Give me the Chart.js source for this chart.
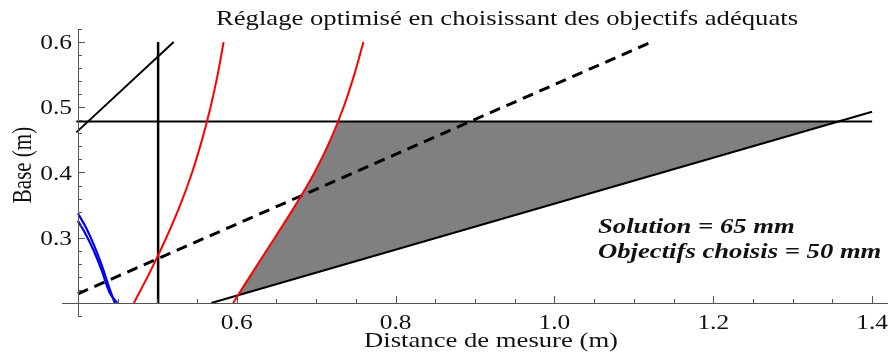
<!DOCTYPE html>
<html>
<head>
<meta charset="utf-8">
<script src="https://cdn.jsdelivr.net/npm/chart.js@4/dist/chart.umd.min.js"></script>
<style>
  html, body { margin: 0; padding: 0; background: #fff; }
  canvas { display: block; }
</style>
</head>
<body>
<canvas id="chart" width="889" height="358"></canvas>
<script>
// Axis ticks
const xTickValues = [0.6, 0.8, 1.0, 1.2, 1.4];
const xTickLabels = ['0.6', '0.8', '1.0', '1.2', '1.4'];
const yTickValues = [0.3, 0.4, 0.5, 0.6];
const yTickLabels = ['0.3', '0.4', '0.5', '0.6'];

// Straight lines (end points)
const horizX = [0.398, 1.400];
const horizY = [0.478, 0.478];
const vertX = [0.501, 0.501];
const vertY = [0.200, 0.600];
const steepX = [0.398, 0.5206];
const steepY = [0.4615, 0.600];
const lowerX = [0.568, 1.400];
const lowerY = [0.200, 0.4932];
const dashX = [0.400, 1.122];
const dashY = [0.214, 0.600];

// Red curves
const redLeftX = [0.4705, 0.4918, 0.5113, 0.5288, 0.5438, 0.5563, 0.5670, 0.5760, 0.5835];
const redLeftY = [0.20, 0.25, 0.30, 0.35, 0.40, 0.45, 0.50, 0.55, 0.60];
const redRightX = [0.5955, 0.6215, 0.6480, 0.6740, 0.6980, 0.7180, 0.7345, 0.7480, 0.7595];
const redRightY = [0.20, 0.25, 0.30, 0.35, 0.40, 0.45, 0.50, 0.55, 0.60];

// Blue curves
const blueOuterX = [0.400, 0.410, 0.420, 0.430, 0.440, 0.4465];
const blueOuterY = [0.3375, 0.316, 0.2895, 0.258, 0.2215, 0.200];
const blueInnerX = [0.400, 0.410, 0.420, 0.430, 0.440, 0.4495];
const blueInnerY = [0.326, 0.305, 0.280, 0.250, 0.2155, 0.200];

// Grey solution region
const shadeX = [0.6013, 0.6215, 0.6480, 0.6740, 0.6980, 0.7180, 0.7272, 1.356, 0.6013];
const shadeY = [0.2115, 0.25, 0.30, 0.35, 0.40, 0.45, 0.478, 0.478, 0.2115];

const toPts = (xs, ys) => xs.map((x, i) => ({ x: x, y: ys[i] }));

const serif = '"Liberation Serif", "Times New Roman", serif';
const stretch = 1.27;

const lineSet = (xs, ys, color, width, extra) => Object.assign({
    data: toPts(xs, ys),
    showLine: true,
    borderColor: color,
    borderWidth: width,
    pointRadius: 0,
    fill: false,
    tension: 0
}, extra || {});

// text drawn a bit wider, like the reference
const wideText = (ctx, text, x, y) => {
    ctx.save();
    ctx.translate(x, y);
    ctx.scale(stretch, 1);
    ctx.fillText(text, 0, 0);
    ctx.restore();
};

// Mathematica style axes, ticks and texts
const axesPlugin = {
    id: 'mmaAxes',
    afterDraw(chart) {
        const ctx = chart.ctx;
        const xs = chart.scales.x;
        const ys = chart.scales.y;
        const x0 = Math.round(xs.getPixelForValue(0.4));
        const y0 = Math.round(ys.getPixelForValue(0.2));
        ctx.save();
        ctx.strokeStyle = '#555';
        ctx.lineWidth = 1;
        ctx.beginPath();
        ctx.moveTo(xs.left, y0 + 0.5);
        ctx.lineTo(xs.right, y0 + 0.5);
        ctx.moveTo(x0 + 0.5, ys.bottom);
        ctx.lineTo(x0 + 0.5, ys.top);
        // x ticks every 0.05
        for (let k = 9; k <= 28; k++) {
            const px = Math.round(xs.getPixelForValue(k * 0.05)) + 0.5;
            const len = (k % 4 === 0) ? 7 : 4;
            ctx.moveTo(px, y0);
            ctx.lineTo(px, y0 - len);
        }
        // y ticks every 0.02
        for (let k = 9; k <= 31; k++) {
            const py = Math.round(ys.getPixelForValue(k * 0.02)) + 0.5;
            const len = (k % 5 === 0) ? 7 : 4;
            ctx.moveTo(x0, py);
            ctx.lineTo(x0 + len, py);
        }
        ctx.stroke();

        ctx.fillStyle = '#111';
        ctx.font = '20px ' + serif;
        ctx.textAlign = 'center';
        ctx.textBaseline = 'alphabetic';
        xTickValues.forEach((v, i) => {
            wideText(ctx, xTickLabels[i], xs.getPixelForValue(v), y0 + 26);
        });
        ctx.textAlign = 'right';
        yTickValues.forEach((v, i) => {
            wideText(ctx, yTickLabels[i], x0 - 6, ys.getPixelForValue(v) + 7);
        });

        // titles
        ctx.font = '21px ' + serif;
        ctx.textAlign = 'center';
        wideText(ctx, 'Réglage optimisé en choisissant des objectifs adéquats', 507, 25);
        wideText(ctx, 'Distance de mesure (m)', 491, 347);
        ctx.save();
        ctx.translate(31, 165);
        ctx.scale(stretch, 1);
        ctx.rotate(-Math.PI / 2);
        ctx.fillText('Base (m)', 0, 0);
        ctx.restore();

        ctx.font = 'italic bold 21px ' + serif;
        ctx.textAlign = 'left';
        wideText(ctx, 'Solution = 65 mm', 598, 233);
        wideText(ctx, 'Objectifs choisis = 50 mm', 598, 258);
        ctx.restore();
    }
};

new Chart(document.getElementById('chart'), {
    type: 'scatter',
    data: {
        datasets: [
            lineSet(redLeftX, redLeftY, '#ff0000', 2, { tension: 0.4 }),
            lineSet(redRightX, redRightY, '#ff0000', 2, { tension: 0.4 }),
            lineSet(blueOuterX, blueOuterY, '#0000ee', 2.2, { tension: 0.4 }),
            lineSet(blueInnerX, blueInnerY, '#0000ee', 2.2, { tension: 0.4 }),
            lineSet(dashX, dashY, '#000', 3, { borderDash: [11, 7] }),
            lineSet(horizX, horizY, '#000', 2),
            lineSet(vertX, vertY, '#000', 2.5),
            lineSet(steepX, steepY, '#000', 2),
            lineSet(lowerX, lowerY, '#000', 2),
            lineSet(shadeX, shadeY, 'rgba(0,0,0,0)', 0, { fill: 'shape', backgroundColor: '#808080' })
        ]
    },
    options: {
        responsive: false,
        animation: false,
        devicePixelRatio: 1,
        layout: { padding: { left: 62, right: 1, top: 29, bottom: 42 } },
        plugins: {
            legend: { display: false },
            tooltip: { enabled: false },
            title: { display: false }
        },
        scales: {
            x: { type: 'linear', min: 0.38, max: 1.42, display: false },
            y: { type: 'linear', min: 0.18, max: 0.62, display: false }
        }
    },
    plugins: [axesPlugin]
});
</script>
</body>
</html>
